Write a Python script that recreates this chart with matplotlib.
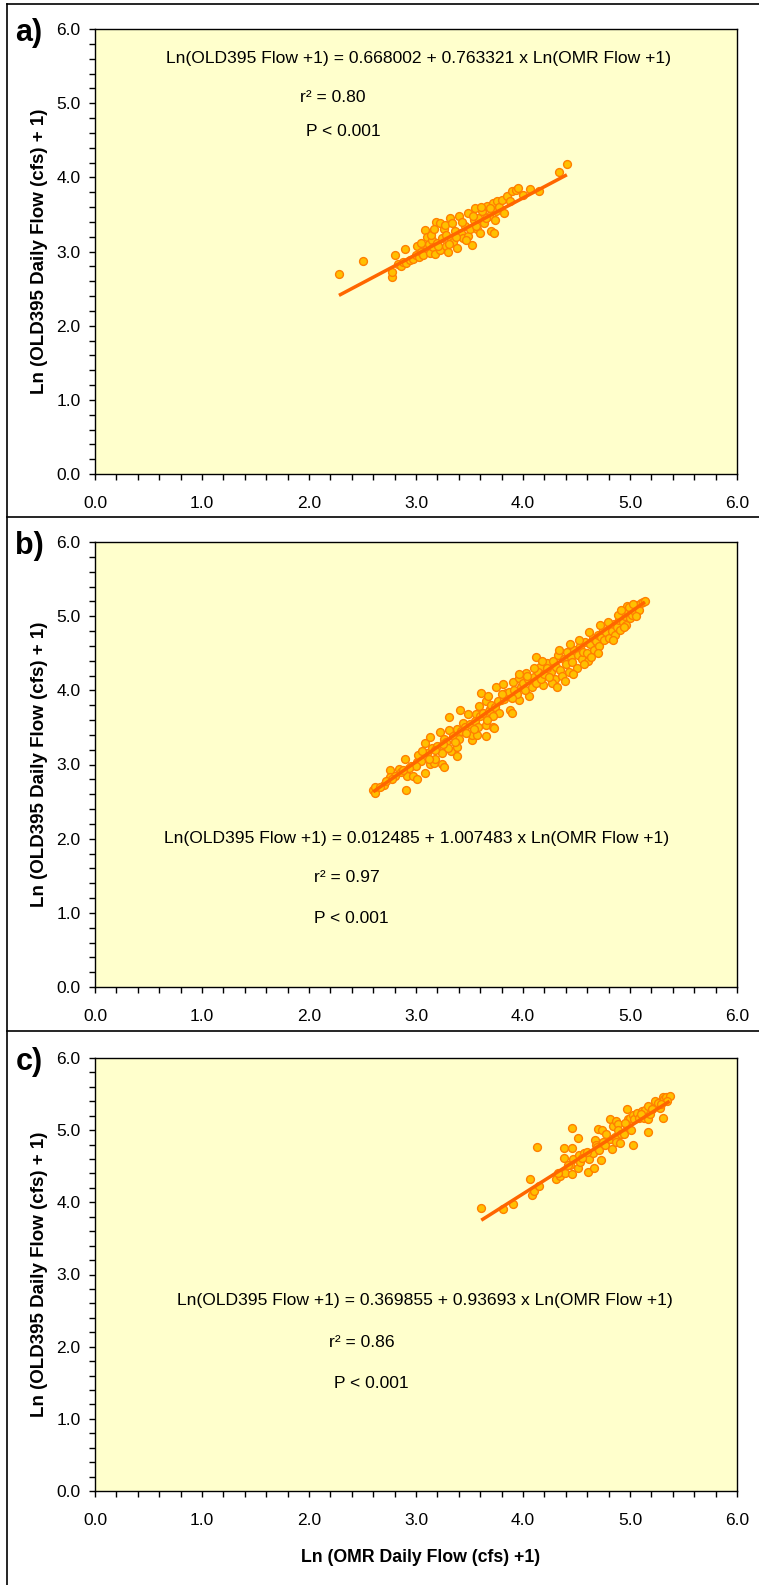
import numpy as np
import matplotlib.pyplot as plt
from matplotlib.lines import Line2D

plt.rcParams['font.family'] = ['Liberation Sans', 'DejaVu Sans']

# panel a
xa = [2.28, 2.50, 2.78, 2.78, 2.80, 2.83, 2.86, 2.88, 2.90, 2.91, 2.94, 2.97, 3.01, 3.00, 3.03, 3.05,
      3.07, 3.08, 3.10, 3.10, 3.12, 3.13, 3.15, 3.16, 3.18, 3.19, 3.20, 3.22, 3.22, 3.24, 3.26, 3.28,
      3.28, 3.30, 3.32, 3.33, 3.35, 3.36, 3.38, 3.40, 3.42, 3.44, 3.46, 3.49, 3.49, 3.50, 3.52, 3.54,
      3.55, 3.57, 3.58, 3.60, 3.62, 3.64, 3.66, 3.68, 3.70, 3.72, 3.73, 3.75, 3.76, 3.78, 3.80, 3.82,
      3.85, 3.88, 3.90, 3.93, 3.95, 4.00, 4.07, 4.15, 4.34, 4.41, 3.05, 3.14, 3.17, 3.21, 3.27, 3.31,
      3.34, 3.37, 3.43, 3.47, 3.53, 3.56, 3.61, 3.65, 3.69, 3.74]
ya = [2.69, 2.87, 2.66, 2.73, 2.95, 2.83, 2.80, 2.86, 3.03, 2.85, 2.88, 2.90, 3.07, 2.95, 2.93, 3.00,
      2.95, 3.29, 3.20, 3.05, 3.10, 2.98, 3.15, 3.06, 2.97, 3.40, 3.12, 3.38, 3.02, 3.18, 3.30, 3.22,
      3.08, 3.00, 3.45, 3.15, 3.13, 3.28, 3.05, 3.48, 3.25, 3.18, 3.35, 3.52, 3.21, 3.30, 3.09, 3.42,
      3.58, 3.31, 3.45, 3.25, 3.55, 3.38, 3.62, 3.48, 3.28, 3.65, 3.25, 3.55, 3.68, 3.60, 3.70, 3.52,
      3.75, 3.68, 3.82, 3.83, 3.85, 3.76, 3.84, 3.82, 4.07, 4.18, 3.12, 3.22, 3.30, 3.08, 3.36, 3.10,
      3.38, 3.20, 3.40, 3.15, 3.48, 3.35, 3.60, 3.45, 3.58, 3.42]

# panel b
xb = [2.60, 2.62, 2.62, 2.91, 2.76, 2.76, 2.84, 2.90, 2.92, 2.97, 3.01, 3.08, 3.01, 3.02, 3.08, 3.13,
      3.13, 3.17, 3.18, 3.24, 3.24, 3.26, 3.22, 3.26, 3.31, 3.33, 3.38, 3.38, 3.31, 3.38, 3.41, 3.44,
      3.49, 3.52, 3.52, 3.57, 3.56, 3.59, 3.61, 3.65, 3.65, 3.65, 3.67, 3.69, 3.72, 3.73, 3.75, 3.79,
      3.81, 3.84, 3.88, 3.90, 3.91, 3.96, 3.96, 3.99, 4.03, 4.06, 4.08, 4.12, 4.16, 4.19, 4.22, 4.23,
      4.26, 4.28, 4.30, 4.31, 4.33, 4.35, 4.36, 4.38, 4.40, 4.41, 4.43, 4.45, 4.46, 4.48, 4.50, 4.51,
      4.53, 4.55, 4.56, 4.58, 4.60, 4.61, 4.63, 4.65, 4.66, 4.68, 4.70, 4.71, 4.73, 4.75, 4.76, 4.78,
      4.80, 4.81, 4.83, 4.85, 4.86, 4.88, 4.90, 4.91, 4.93, 4.95, 4.96, 4.98, 5.00, 5.01, 5.02, 5.04,
      5.05, 5.07, 5.08, 5.10, 5.12, 5.14, 4.97, 4.99, 5.03, 4.70, 4.62, 4.44, 4.34, 4.27, 4.32, 4.39,
      4.47, 4.52, 4.57, 4.64, 4.72, 4.79, 4.84, 4.89, 4.92, 4.94, 5.06,
      2.70, 2.80, 2.86, 2.95, 3.05, 3.10, 3.15, 3.20, 3.28, 3.35, 3.42, 3.46, 3.50, 3.55, 3.60, 3.63,
      3.68, 3.70, 3.74, 3.77, 3.82, 3.85, 3.87, 3.92, 3.94, 3.98, 4.00, 4.02, 4.05, 4.08, 4.10, 4.12,
      4.14, 4.17, 4.20, 4.22, 4.24, 4.18, 4.10, 4.04, 3.96, 3.90, 3.80, 3.78, 3.72, 3.66, 3.58, 3.54,
      3.47, 3.40, 3.36, 3.30, 3.25, 3.18, 3.12, 3.06, 3.00, 2.93, 2.88, 2.78, 2.72, 2.66]
yb = [2.65, 2.62, 2.70, 2.66, 2.93, 2.83, 2.94, 3.08, 2.85, 2.84, 2.80, 2.89, 3.04, 3.13, 3.29, 3.37,
      3.01, 3.02, 3.08, 3.16, 3.01, 2.96, 3.44, 3.35, 3.64, 3.18, 3.24, 3.11, 3.47, 3.48, 3.73, 3.56,
      3.68, 3.33, 3.40, 3.40, 3.68, 3.79, 3.96, 3.85, 3.53, 3.38, 3.92, 3.75, 3.51, 3.49, 4.04, 3.87,
      4.08, 3.96, 3.73, 3.69, 4.11, 4.16, 3.87, 4.07, 4.23, 3.92, 4.12, 4.45, 4.32, 4.07, 4.37, 4.21,
      4.25, 4.40, 4.15, 4.32, 4.48, 4.28, 4.20, 4.42, 4.35, 4.52, 4.25, 4.45, 4.38, 4.55, 4.30, 4.48,
      4.60, 4.42, 4.52, 4.65, 4.50, 4.40, 4.62, 4.70, 4.55, 4.66, 4.75, 4.60, 4.72, 4.82, 4.68, 4.78,
      4.70, 4.88, 4.80, 4.90, 4.75, 4.86, 4.95, 4.82, 4.92, 5.00, 4.88, 5.05, 4.98, 5.10, 5.02, 5.12,
      5.06, 5.15, 5.08, 5.18, 5.19, 5.20, 5.14, 5.12, 5.16, 4.50, 4.78, 4.62, 4.55, 4.10, 4.05, 4.12,
      4.22, 4.68, 4.35, 4.45, 4.88, 4.92, 4.68, 5.02, 5.08, 4.85, 5.00,
      2.72, 2.85, 2.90, 2.98, 3.05, 3.15, 3.22, 3.25, 3.30, 3.38, 3.45, 3.50, 3.55, 3.58, 3.65, 3.70,
      3.72, 3.80, 3.78, 3.85, 3.88, 3.92, 3.98, 4.00, 3.95, 4.05, 4.10, 4.00, 4.15, 4.05, 4.18, 4.10,
      4.25, 4.15, 4.22, 4.30, 4.18, 4.40, 4.30, 4.20, 4.22, 3.90, 3.95, 3.70, 3.65, 3.60, 3.50, 3.48,
      3.42, 3.35, 3.30, 3.22, 3.28, 3.20, 3.08, 3.18, 2.98, 2.95, 2.92, 2.80, 2.78, 2.70]

# panel c
xc = [3.61, 3.81, 3.91, 4.07, 4.08, 4.10, 4.15, 4.13, 4.31, 4.35, 4.38, 4.38, 4.39, 4.46, 4.46, 4.46,
      4.44, 4.47, 4.51, 4.51, 4.52, 4.53, 4.57, 4.61, 4.62, 4.65, 4.66, 4.67, 4.68, 4.70, 4.69, 4.71,
      4.73, 4.74, 4.75, 4.77, 4.81, 4.81, 4.83, 4.84, 4.86, 4.87, 4.87, 4.89, 4.89, 4.91, 4.92, 4.94,
      4.97, 4.97, 4.98, 5.00, 5.01, 5.03, 5.03, 5.04, 5.07, 5.08, 5.11, 5.13, 5.14, 5.17, 5.17, 5.17,
      5.19, 5.23, 5.26, 5.28, 5.31, 5.31, 5.32, 5.34, 5.37, 5.35, 4.33, 4.42, 4.55, 4.60, 4.78, 4.95,
      5.10, 5.21, 5.29]
yc = [3.92, 3.91, 3.98, 4.33, 4.10, 4.16, 4.22, 4.76, 4.33, 4.36, 4.75, 4.62, 4.41, 5.03, 4.75, 4.39,
      4.52, 4.60, 4.89, 4.48, 4.65, 4.56, 4.68, 4.42, 4.60, 4.69, 4.48, 4.87, 4.80, 5.01, 4.77, 4.73,
      4.58, 5.00, 4.84, 4.80, 5.16, 4.88, 4.74, 5.06, 4.90, 5.13, 4.84, 5.08, 5.00, 4.82, 4.94, 4.95,
      5.30, 5.06, 5.15, 5.17, 5.00, 5.21, 4.80, 5.15, 5.24, 5.17, 5.26, 5.17, 5.28, 5.33, 5.16, 4.97,
      5.22, 5.40, 5.38, 5.31, 5.46, 5.17, 5.43, 5.46, 5.47, 5.41, 4.40, 4.52, 4.62, 4.70, 4.95, 5.10,
      5.22, 5.30, 5.36]

labels = ['a)', 'b)', 'c)']
intercepts = [0.668002, 0.012485, 0.369855]
slopes = [0.763321, 1.007483, 0.93693]
eq_strs = ['0.668002 + 0.763321', '0.012485 + 1.007483', '0.369855 + 0.93693']
r2s = ['0.80', '0.97', '0.86']

# text anchor positions (data units) for equation, r2, P
eq_pos = [(3.02, 5.60), (3.01, 2.00), (3.08, 2.64)]
r2_pos = [(2.22, 5.08), (2.35, 1.47), (2.49, 2.06)]
p_pos = [(2.32, 4.62), (2.40, 0.93), (2.58, 1.49)]

W, H = 759, 1585
fig = plt.figure(figsize=(W / 100, H / 100), dpi=100)

ax_top = [29, 542, 1058]  # pixel top of each axes
ax_hs = [445, 445, 433]   # pixel height of each axes
ax_l, ax_w = 95, 642

data = [(xa, ya), (xb, yb), (xc, yc)]
for i in range(3):
    ax_h = ax_hs[i]
    ax = fig.add_axes([ax_l / W, 1 - (ax_top[i] + ax_h) / H, ax_w / W, ax_h / H])
    ax.set_facecolor('#FFFFCC')
    x, y = np.array(data[i][0]), np.array(data[i][1])
    ax.scatter(x, y, s=32, color='#FFC000', edgecolors='#FF8000', linewidths=1.0, zorder=3)
    xl = np.array([x.min(), x.max()])
    ax.plot(xl, intercepts[i] + slopes[i] * xl, color='#FF6600', lw=2.5, zorder=4,
            solid_capstyle='butt')
    ax.set_xlim(0, 6)
    ax.set_ylim(0, 6)
    ax.set_xticks(np.arange(0, 6.01, 1.0))
    ax.set_yticks(np.arange(0, 6.01, 1.0))
    ax.set_xticks(np.arange(0, 6.01, 0.2), minor=True)
    ax.set_yticks(np.arange(0, 6.01, 0.2), minor=True)
    ax.set_xticklabels(['%.1f' % v for v in np.arange(0, 6.01, 1.0)])
    ax.set_yticklabels(['%.1f' % v for v in np.arange(0, 6.01, 1.0)])
    ax.tick_params(which='both', direction='out', length=4.5, width=1, labelsize=12.5)
    ax.tick_params(axis='x', pad=11)
    ax.tick_params(axis='y', pad=6)
    for s in ax.spines.values():
        s.set_linewidth(1.0)

    ax.text(*eq_pos[i], 'Ln(OLD395 Flow +1) = %s x Ln(OMR Flow +1)' % eq_strs[i],
            ha='center', va='center', fontsize=12.6)
    ax.text(*r2_pos[i], 'r² = %s' % r2s[i], ha='center', va='center', fontsize=12.6)
    ax.text(*p_pos[i], 'P < 0.001', ha='center', va='center', fontsize=12.6)

    fig.text(29 / W, 1 - (ax_top[i] + 4) / H, labels[i], ha='center', va='center',
             fontsize=22, fontweight='bold')
    fig.text(40 / W, 1 - (ax_top[i] + ax_h / 2) / H, 'Ln (OLD395 Daily Flow (cfs) + 1)',
             rotation=90, ha='center', va='center', fontsize=13.5, fontweight='bold')

fig.text(421 / W, 1 - 1558 / H, 'Ln (OMR Daily Flow (cfs) +1)', ha='center', va='center',
         fontsize=12.8, fontweight='bold')

# panel frame lines
for yy in [4, 517, 1031]:
    fig.add_artist(Line2D([7 / W, 1], [1 - yy / H, 1 - yy / H], color='black', lw=1.2,
                          transform=fig.transFigure))
fig.add_artist(Line2D([7 / W, 7 / W], [0, 1 - 4 / H], color='black', lw=1.2,
                      transform=fig.transFigure))

plt.savefig('out.png', dpi=100)
